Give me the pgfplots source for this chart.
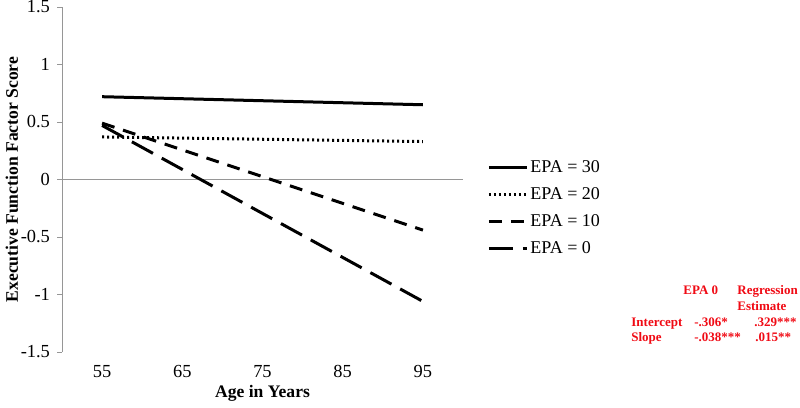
\documentclass[border=0pt]{standalone}
\usepackage{pgfplots}
\pgfplotsset{compat=1.18}
\usepackage{fontspec}
\setmainfont{Liberation Serif}
\definecolor{axgray}{RGB}{150,150,150}
\definecolor{tred}{RGB}{240,10,20}
\begin{document}
\begin{tikzpicture}
\path[use as bounding box] (0,0) rectangle (400pt,204pt);
\begin{axis}[
  at={(31pt,28pt)}, anchor=south west,
  scale only axis, width=200.5pt, height=172.5pt,
  xmin=50, xmax=100, ymin=-1.5, ymax=1.5,
  xtick={55,65,75,85,95},
  ytick={-1.5,-1,-0.5,0,0.5,1,1.5},
  yticklabels={-1.5,-1,-0.5,0,0.5,1,1.5},
  axis lines=left, axis line style={-},
  x axis line style={draw=none},
  y axis line style={axgray},
  xtick style={draw=none},
  ytick style={axgray},
  tick align=outside, major tick length=2.5pt,
  /pgf/number format/assume math mode=true,
  tick label style={font=\fontsize{9.2}{11}\selectfont},
  xticklabel style={yshift=-0.5pt},
  xlabel={\textbf{Age in Years}},
  ylabel={\textbf{Executive Function Factor Score}},
  label style={font=\fontsize{8.8}{10}\selectfont},
  xlabel style={at={(axis description cs:0.5,-0.12)}, anchor=center},
  ylabel style={at={(axis description cs:-0.125,0.5)}, anchor=center},
  legend style={at={(axis description cs:1.045,0.575)}, anchor=north west,
    draw=none, font=\fontsize{9}{10}\selectfont, row sep=4pt,
    nodes={inner sep=1pt, text height=6pt, text depth=1.5pt}},
  legend cell align=left,
  legend image code/.code={\draw[#1] (0pt,0pt) -- (19pt,0pt);},
]
\draw[axgray] (axis cs:50,0) -- (axis cs:100,0);
\addplot[black, line width=1.5pt] coordinates {(55,0.72) (95,0.65)};
\addlegendentry{EPA = 30}
\addplot[black, line width=1.5pt, dash pattern=on 1pt off 1.5pt] coordinates {(55,0.37) (95,0.33)};
\addlegendentry{EPA = 20}
\addplot[black, line width=1.5pt, dash pattern=on 6.5pt off 4.5pt] coordinates {(55,0.49) (95,-0.44)};
\addlegendentry{EPA = 10}
\addplot[black, line width=1.5pt, dash pattern=on 12pt off 5pt] coordinates {(55,0.47) (95,-1.06)};
\addlegendentry{EPA = 0}
\end{axis}
\begin{scope}[every node/.style={anchor=base west, inner sep=0pt, text=tred, font=\fontsize{6.5}{7.5}\selectfont\bfseries}]
\node at (341.5pt,56.5pt) {EPA 0};
\node at (368.5pt,56.5pt) {Regression};
\node at (368.5pt,48.65pt) {Estimate};
\node at (315.5pt,40.65pt) {Intercept};
\node at (347pt,40.65pt) {-.306*};
\node at (377pt,40.65pt) {.329***};
\node at (315.5pt,33.15pt) {Slope};
\node at (347pt,33.15pt) {-.038***};
\node at (377.5pt,33.15pt) {.015**};
\end{scope}
\end{tikzpicture}
\end{document}
